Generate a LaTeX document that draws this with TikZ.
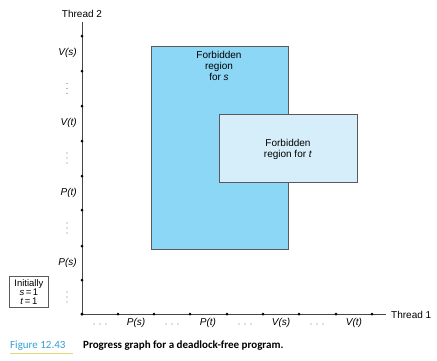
\documentclass[tikz,border=0pt]{standalone}
\usepackage{fontspec}
\setmainfont{Liberation Sans}
\newfontfamily\capfont{Carlito}
\definecolor{axisgray}{RGB}{70,70,70}
\definecolor{regionS}{RGB}{140,214,246}
\definecolor{regionT}{RGB}{214,238,250}
\definecolor{boxedge}{RGB}{90,90,90}
\definecolor{figblue}{RGB}{50,160,215}
\definecolor{dotgray}{RGB}{120,120,120}
\definecolor{underl}{RGB}{225,215,120}
\begin{document}
\begin{tikzpicture}[x=1pt,y=-1pt,
  lbl/.style={font=\fontsize{10}{11}\selectfont, inner sep=0pt},
  tick/.style={circle, fill=black, inner sep=0pt, minimum size=3pt},
  sdot/.style={circle, fill=dotgray, inner sep=0pt, minimum size=1.3pt},
  region/.style={draw=boxedge, line width=0.8pt},
  axis/.style={draw=axisgray, line width=0.9pt}]
\useasboundingbox (0,0) rectangle (437,360);
\fill[white] (0,0) rectangle (437,360);

% regions
\node[region, fill=regionS, minimum width=137pt, minimum height=203pt, anchor=north west, inner sep=0pt] (rs) at (151,46) {};
\node[region, fill=regionT, minimum width=138pt, minimum height=68pt, anchor=north west, inner sep=0pt] (rt) at (219,114) {};
\node[lbl, align=center, anchor=north] (rslbl) at (219,51) {Forbidden\\region\\for \textit{s}};
\node[lbl, align=center] (rtlbl) at (288,149) {Forbidden\\region for \textit{t}};

% axes
\coordinate (O) at (82,314);
\coordinate (ytop) at (82,22);
\coordinate (xend) at (386,314);
\draw[axis] (O) -- (ytop);
\draw[axis] (O) -- (xend);
\node[lbl, anchor=south] (t2) at (82,18) {Thread 2};
\node[lbl, anchor=west] (t1) at (391,315) {Thread 1};

% ticks
\foreach \y [count=\i] in {36,71,106,141,176,210,246,280,314}
  \node[tick] (yt\i) at (82,\y) {};
\foreach \x [count=\i] in {82,118,154,190,227,263,299,336,372}
  \node[tick] (xt\i) at (\x,314) {};

% y labels
\node[lbl, anchor=east] (yv1) at (77,53) {\textit{V(s)}};
\node[lbl, anchor=east] (yv2) at (77,123) {\textit{V(t)}};
\node[lbl, anchor=east] (yp1) at (77,193) {\textit{P(t)}};
\node[lbl, anchor=east] (yp2) at (77,263) {\textit{P(s)}};
\foreach \c [count=\i] in {88.5,158,228,297}
  \foreach \d in {-5,0,5}
    \node[sdot] at (67,\c+\d) {};

% x labels
\node[lbl] (xp1) at (136,323) {\textit{P(s)}};
\node[lbl] (xp2) at (208,323) {\textit{P(t)}};
\node[lbl] (xv1) at (281,323) {\textit{V(s)}};
\node[lbl] (xv2) at (354,323) {\textit{V(t)}};
\foreach \c in {100,172,245,317}
  \foreach \d in {-6,0,6}
    \node[sdot] at (\c+\d,324) {};

% initially box
\node[draw=boxedge, line width=0.8pt, fill=white, minimum width=39pt, minimum height=31pt, inner sep=0pt, anchor=north west] (init) at (9,276) {};
\node[lbl, align=center, font=\fontsize{9.5}{9}\selectfont] (initlbl) at (init.center) {Initially\\\textit{s}\,=\,1\\\textit{t}\,=\,1};

% caption
\node[anchor=west, inner sep=0pt, font=\capfont\fontsize{11}{12}\selectfont, text=figblue] (fig) at (10,346) {Figure 12.43};
\draw[underl, line width=0.6pt] (fig.south west) ++(0,2.5) -- ++(63,0);
\node[anchor=west, inner sep=0pt, font=\capfont\bfseries\fontsize{11}{12}\selectfont] (cap) at (83,346) {Progress graph for a deadlock-free program.};
\end{tikzpicture}
\end{document}
